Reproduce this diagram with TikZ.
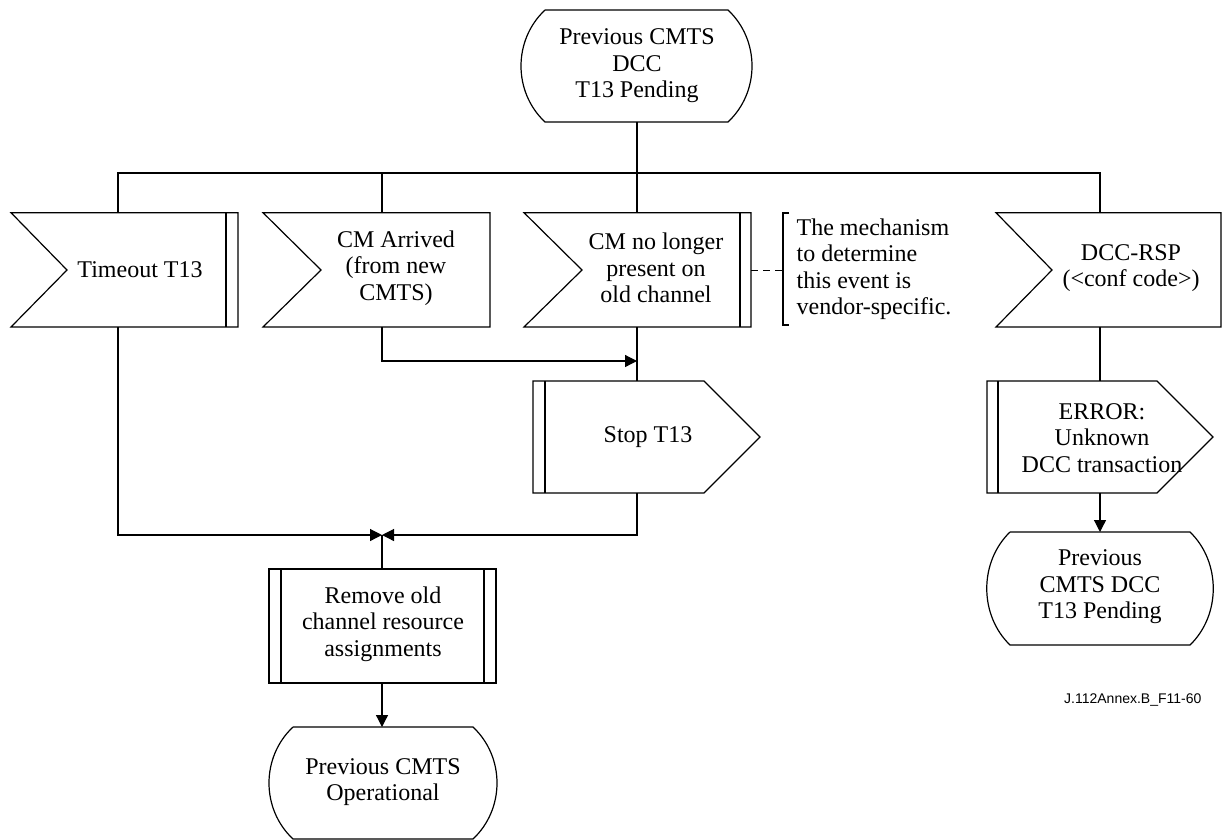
\documentclass[tikz,border=0pt]{standalone}
\usepackage{fontspec}
\setmainfont{Liberation Serif}
\newfontfamily\labelfont{Liberation Sans}
\usetikzlibrary{arrows.meta}
\begin{document}
\begin{tikzpicture}[x=1pt,y=-1pt,line width=1.2pt,
  txt/.style={align=center,inner sep=0pt,font=\fontsize{24}{26.5}\selectfont},
  flow/.style={-{Triangle[length=12pt,width=12pt]}},
  shp/.style={draw,line join=miter}]
\useasboundingbox (0,0) rectangle (1222,839);
% ---------- state: top ----------
\draw[shp] (545,10) -- (728,10) .. controls (760,40) and (760,92) .. (728,122)
  -- (545,122) .. controls (513,92) and (513,40) .. (545,10);
\node[txt] (s0) at (637,66) {Previous CMTS\\DCC\\T13 Pending};
\coordinate (s0b) at (637,122);
% ---------- inputs ----------
\draw[shp] (11,212.7) -- (238,212.7) -- (238,327) -- (11,327) -- (67,270) -- cycle;
\draw (226,212.7) -- (226,327);
\node[txt] (in1) at (140,270) {Timeout T13};
\draw[shp] (263,212.7) -- (490,212.7) -- (490,327) -- (263,327) -- (321,270) -- cycle;
\node[txt] (in2) at (396,268) {CM Arrived\\(from new\\CMTS)};
\draw[shp] (524,212.7) -- (751,212.7) -- (751,327) -- (524,327) -- (582,270) -- cycle;
\draw (740,212.7) -- (740,327);
\node[txt] (in3) at (656,268) {CM no longer\\present on\\old channel};
\draw[shp] (996,212.7) -- (1221,212.7) -- (1221,327) -- (996,327) -- (1052,270) -- cycle;
\node[txt] (in4) at (1131,268) {DCC-RSP\\(<conf code>)};
\coordinate (in1t) at (118,212.7); \coordinate (in1b) at (118,327);
\coordinate (in2t) at (382,212.7); \coordinate (in2b) at (382,327);
\coordinate (in3t) at (637,212.7); \coordinate (in3b) at (637,327);
\coordinate (in4t) at (1100,212.7); \coordinate (in4b) at (1100,327);
% ---------- annotation ----------
\coordinate (in3r) at (751,270.7);
\coordinate (br) at (783,270.7);
\draw[line width=2.6pt] (789,213) -- (783,213) -- (783,325) -- (789,325);
\node[anchor=west,align=left,inner sep=0pt,font=\fontsize{24}{26.5}\selectfont] (note) at (796,269)
  {The mechanism\\to determine\\this event is\\vendor-specific.};
\draw[dashed,dash pattern=on 7pt off 5pt] (in3r) -- (br);
% ---------- outputs ----------
\draw[shp] (533,381) -- (704,381) -- (760,437) -- (704,493) -- (533,493) -- cycle;
\draw (545,381) -- (545,493);
\node[txt] (o1) at (648,437) {Stop T13};
\coordinate (o1t) at (637,381); \coordinate (o1b) at (637,493);
\draw[shp] (987,381) -- (1157,381) -- (1213,437) -- (1157,493) -- (987,493) -- cycle;
\draw (998,381) -- (998,493);
\node[txt] (o2) at (1102,438) {ERROR:\\Unknown\\DCC transaction};
\coordinate (o2t) at (1100,381); \coordinate (o2b) at (1100,493);
% ---------- error state ----------
\draw[shp] (1010,532) -- (1190,532) .. controls (1221,562) and (1221,615) .. (1190,645)
  -- (1010,645) .. controls (979,615) and (979,562) .. (1010,532);
\node[txt] (s1) at (1100,587) {Previous\\CMTS DCC\\T13 Pending};
\coordinate (s1t) at (1100,532);
% ---------- task ----------
\draw[shp] (269,569) rectangle (496,683);
\draw (281,569) -- (281,683);
\draw (484,569) -- (484,683);
\node[txt] (t1) at (383,624) {Remove old\\channel resource\\assignments};
\coordinate (t1t) at (382,569); \coordinate (t1b) at (382,683);
% ---------- bottom state ----------
\draw[shp] (293,727) -- (473,727) .. controls (505,757) and (505,809) .. (473,839)
  -- (293,839) .. controls (261,809) and (261,757) .. (293,727);
\node[txt] (s2) at (383,782) {Previous CMTS\\Operational};
\coordinate (s2t) at (382,727);
% ---------- connectors ----------
\coordinate (bus) at (637,173);
\coordinate (junc) at (382,535);
\draw (s0b) -- (bus);
\draw (in1t) |- (in4t |- bus) -- (in4t);
\draw (in2t) -- (in2t |- bus);
\draw (bus) -- (in3t);
\draw[flow] (in2b) |- (o1t |- 0,361);
\draw (in3b) -- (o1t);
\draw[flow] (in1b) |- (junc);
\draw[flow] (o1b) |- (junc);
\draw (junc) -- (t1t);
\draw[flow] (t1b) -- (s2t);
\draw (in4b) -- (o2t);
\draw[flow] (o2b) -- (s1t);
% ---------- figure label ----------
\node[anchor=east,inner sep=0pt,font=\labelfont\fontsize{14}{16}\selectfont] (lbl) at (1202,700) {J.112Annex.B\_F11-60};
\end{tikzpicture}
\end{document}
